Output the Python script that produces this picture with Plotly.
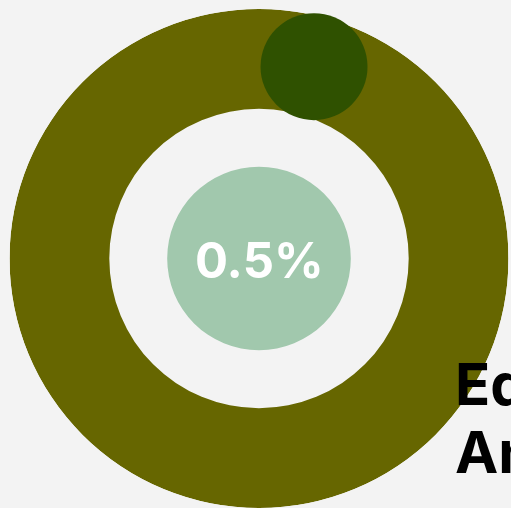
import plotly.graph_objects as go

# Chart data
ring_share = [1.0]          # full ring (radial thickness drawn as a bar)
center_value = 0.5          # percentage shown in the middle
center_label = f"{center_value}%"
marker_angle = [16]         # position of the dark marker on the ring (degrees)
label_lines = ["Education", "Analysis"]

# Colours
bg = "#f3f3f3"
olive = "#666600"
dark_green = "#2f5100"
light_green = "#a1c8ad"

fig = go.Figure()

# Outer ring
fig.add_trace(go.Barpolar(
    r=[0.4 * v for v in ring_share],
    base=[0.6],
    theta=[0],
    width=[360],
    marker=dict(color=olive, line=dict(width=0)),
    hoverinfo="skip",
    showlegend=False,
))

# Light centre disc
fig.add_trace(go.Barpolar(
    r=[0.368],
    base=[0],
    theta=[0],
    width=[360],
    marker=dict(color=light_green, line=dict(width=0)),
    hoverinfo="skip",
    showlegend=False,
))

# Dark marker on the ring
fig.add_trace(go.Scatterpolar(
    r=[0.8],
    theta=marker_angle,
    mode="markers",
    marker=dict(size=107, color=dark_green, line=dict(width=0)),
    hoverinfo="skip",
    showlegend=False,
))

# Centre label
fig.add_annotation(
    text=center_label,
    xref="paper", yref="paper",
    x=259 / 511, y=1 - 260 / 508,
    xanchor="center", yanchor="middle",
    showarrow=False,
    font=dict(family="Inter, sans-serif", size=49, color="white", weight="bold"),
)

# Side label (runs off the right edge)
for i, line in enumerate(label_lines):
    fig.add_annotation(
        text=line,
        xref="paper", yref="paper",
        x=453 / 511, y=1 - (384 + 68 * i) / 508,
        xanchor="left", yanchor="middle",
        showarrow=False,
        font=dict(family="Inter, sans-serif", size=58, color="black", weight="bold"),
    )

fig.update_layout(
    width=511,
    height=508,
    margin=dict(l=0, r=0, t=0, b=0),
    paper_bgcolor=bg,
    plot_bgcolor=bg,
    polar=dict(
        domain=dict(x=[9 / 511, 509 / 511], y=[0, 499 / 508]),
        bgcolor="rgba(0,0,0,0)",
        radialaxis=dict(visible=False, range=[0, 1]),
        angularaxis=dict(visible=False, rotation=90, direction="clockwise"),
        bargap=0,
    ),
)

fig.write_html(
    "out.html",
    config={"displayModeBar": False},
    post_script="document.body.style.margin='0';document.body.style.background='#f3f3f3';",
)
